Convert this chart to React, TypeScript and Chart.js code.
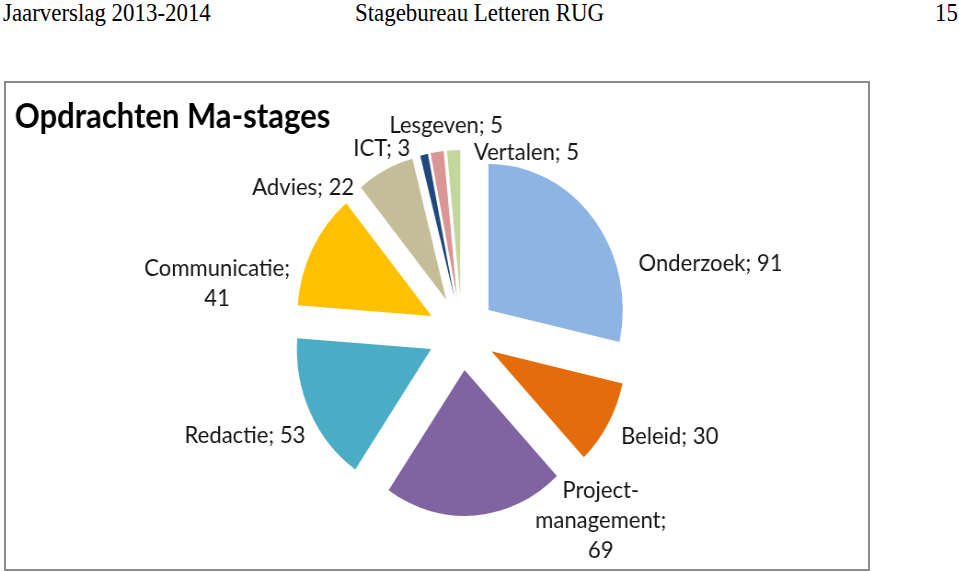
import React, { useEffect, useRef } from 'react';
import Chart from 'chart.js/auto';

// ---- data ----
const TITLE = 'Opdrachten Ma-stages';
const categories = ['Onderzoek', 'Beleid', 'Project-\nmanagement', 'Redactie', 'Communicatie', 'Advies', 'ICT', 'Lesgeven', 'Vertalen'];
const values = [91, 30, 69, 53, 41, 22, 3, 5, 5];
const valueOnNewLine = [false, false, true, false, true, false, false, false, false];
const colors = ['#8EB4E3', '#E46C0A', '#8064A2', '#4BACC6', '#FFC000', '#C4BD97', '#1F497D', '#D99694', '#C3D69B'];

// ---- layout / style ----
const SX = 0.92; // horizontal squeeze of the scanned chart
const CW = Math.round(959 / SX);
const CH = 572;
const CX = 502; // pie centre (unsqueezed canvas px)
const CY = 333;
const RADIUS = 146;
const EXPLODE = 37; // px the slices are pulled out
const LABEL_FONT = '24px Lato';
const LABEL_LINE = 30;
const TITLE_FONT = 'bold 33.7px Lato';
const TEXT_COLOR = '#161616';

type Place = { dx: number; dy: number; align: CanvasTextAlign };
const labelPlacement: Place[] = [
  { dx: 192, dy: -70, align: 'left' },
  { dx: 173, dy: 103, align: 'left' },
  { dx: 151, dy: 157, align: 'center' },
  { dx: -170, dy: 102, align: 'right' },
  { dx: -266, dy: -65, align: 'center' },
  { dx: -117, dy: -146, align: 'right' },
  { dx: -56, dy: -185, align: 'right' },
  { dx: -17, dy: -208, align: 'center' },
  { dx: 13, dy: -181, align: 'left' },
];

const labelText = (i: number) =>
  `${categories[i]};${valueOnNewLine[i] ? '\n' : ' '}${values[i]}`;

// Chart.js shrinks and enlarges thin exploded slices; keep every slice
// at its true angle and at the same radius, like the Excel original.
const evenSlicePlugin = {
  id: 'evenSlice',
  beforeDatasetDraw(chart: any, args: any) {
    const meta = args.meta;
    const base = meta.controller.outerRadius;
    meta.data.forEach((arc: any) => {
      arc.outerRadius = base;
      arc.circumference = Math.PI / 2;
    });
  },
};

const labelPlugin = {
  id: 'sliceLabels',
  afterDatasetsDraw(chart: any) {
    const meta = chart.getDatasetMeta(0);
    const ctx: CanvasRenderingContext2D = chart.ctx;
    ctx.save();
    ctx.fillStyle = TEXT_COLOR;
    ctx.textBaseline = 'middle';
    ctx.font = LABEL_FONT;
    meta.data.forEach((arc: any, i: number) => {
      const p = labelPlacement[i];
      ctx.textAlign = p.align;
      labelText(i)
        .split('\n')
        .forEach((ln, k) => ctx.fillText(ln, arc.x + p.dx, arc.y + p.dy + k * LABEL_LINE));
    });
    ctx.font = TITLE_FONT;
    ctx.textAlign = 'left';
    ctx.fillStyle = '#000';
    ctx.fillText(TITLE, 16, 117);
    ctx.restore();
  },
};

export default function App() {
  const ref = useRef<HTMLCanvasElement | null>(null);

  useEffect(() => {
    if (!ref.current) return;
    const half = 200;
    const chart = new Chart(ref.current, {
      type: 'pie',
      data: {
        labels: categories.map((c) => c.replace('\n', '')),
        datasets: [
          {
            data: values,
            backgroundColor: colors,
            borderWidth: 0,
            offset: EXPLODE * 4,
            clip: false as any,
          },
        ],
      },
      options: {
        responsive: false,
        animation: false,
        events: [],
        radius: RADIUS,
        layout: {
          padding: {
            left: CX - half,
            right: CW - (CX + half),
            top: CY - half,
            bottom: CH - (CY + half),
          },
        },
        plugins: {
          legend: { display: false },
          tooltip: { enabled: false },
          title: { display: false },
        },
      } as any,
      plugins: [evenSlicePlugin, labelPlugin],
    });
    return () => chart.destroy();
  }, []);

  const serif: React.CSSProperties = {
    position: 'absolute',
    top: 0,
    fontFamily: '"Liberation Serif", "Times New Roman", serif',
    fontSize: 26,
    lineHeight: '26px',
    color: '#000',
    whiteSpace: 'nowrap',
    transform: 'scaleX(0.88)',
    transformOrigin: '0 0',
  };

  return (
    <div style={{ position: 'absolute', left: 0, top: 0, width: 959, height: 572, background: '#fff', overflow: 'hidden' }}>
      <span style={{ ...serif, left: 3 }}>Jaarverslag 2013-2014</span>
      <span style={{ ...serif, left: 355 }}>Stagebureau Letteren RUG</span>
      <span style={{ ...serif, left: 935 }}>15</span>
      <div
        style={{
          position: 'absolute',
          left: 4,
          top: 81,
          width: 862,
          height: 486,
          border: '2px solid #8c8c8c',
        }}
      />
      <canvas
        ref={ref}
        width={CW}
        height={CH}
        style={{
          position: 'absolute',
          left: 0,
          top: 0,
          width: CW,
          height: CH,
          transform: `scaleX(${SX})`,
          transformOrigin: '0 0',
        }}
      />
    </div>
  );
}
